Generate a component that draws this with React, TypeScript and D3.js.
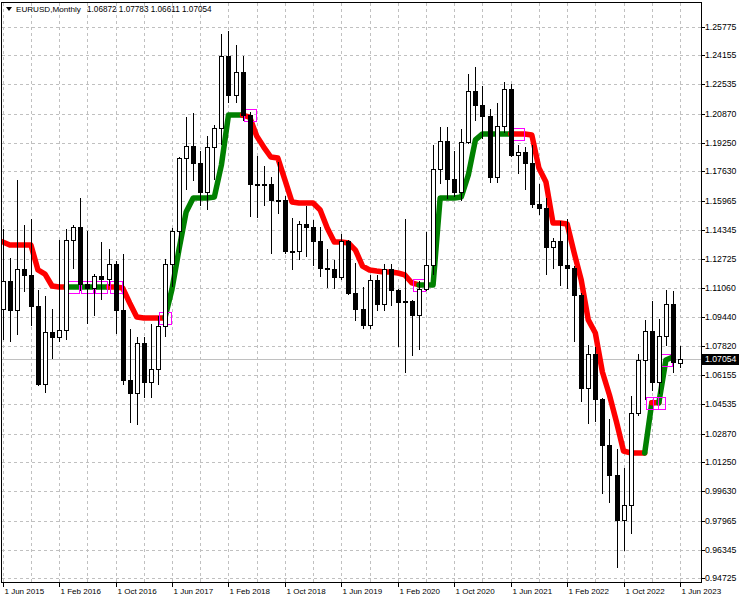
import React from "react";
import * as d3 from "d3";

const W = 741;
const H = 600;

// Monthly EURUSD candles, bar 0 = Jun 2015 ... bar 96 = Jun 2023
const opens = [
  1.0986, 1.1146, 1.0984, 1.1211, 1.1177, 1.1005, 1.0565, 1.0861, 1.0831, 1.0872,
  1.1379, 1.1452, 1.1131, 1.1104, 1.1174, 1.1157, 1.124, 1.0981, 1.059, 1.0517,
  1.0798, 1.0575, 1.0652, 1.0895, 1.1243, 1.1425, 1.1838, 1.1907, 1.1813, 1.1646,
  1.1902, 1.2005, 1.2414, 1.2194, 1.2324, 1.2078, 1.1693, 1.1684, 1.169, 1.16,
  1.1604, 1.1313, 1.1315, 1.1467, 1.1448, 1.1372, 1.1217, 1.1216, 1.117, 1.137,
  1.1077, 1.0987, 1.0899, 1.1152, 1.1016, 1.1213, 1.1093, 1.1027, 1.1031, 1.0954,
  1.1103, 1.1234, 1.1778, 1.1935, 1.1721, 1.1646, 1.1926, 1.2214, 1.2137, 1.2073,
  1.1729, 1.2019, 1.2228, 1.1858, 1.187, 1.1809, 1.1579, 1.1558, 1.1338, 1.137,
  1.1235, 1.1219, 1.1067, 1.0545, 1.0733, 1.0483, 1.0221, 1.0055, 0.9801, 0.9883,
  1.0405, 1.0703, 1.0863, 1.0576, 1.0839, 1.1017, 1.06872,
];
const highs = [
  1.1436, 1.1278, 1.1714, 1.146, 1.1495, 1.1096, 1.106, 1.0986, 1.1376, 1.1438,
  1.1464, 1.1616, 1.1428, 1.1186, 1.1366, 1.1327, 1.1258, 1.13, 1.0874, 1.0829,
  1.0829, 1.0906, 1.095, 1.1268, 1.1445, 1.1846, 1.207, 1.2092, 1.188, 1.1961,
  1.2023, 1.2537, 1.2556, 1.2476, 1.2414, 1.2097, 1.1852, 1.1791, 1.1733, 1.1815,
  1.1622, 1.15, 1.1486, 1.157, 1.1488, 1.1448, 1.1324, 1.1265, 1.1412, 1.1376,
  1.125, 1.111, 1.118, 1.1177, 1.124, 1.1239, 1.11, 1.1495, 1.104, 1.1146,
  1.1422, 1.1909, 1.2011, 1.2011, 1.188, 1.2004, 1.231, 1.2349, 1.2243, 1.2114,
  1.215, 1.2266, 1.2254, 1.1909, 1.19, 1.1909, 1.1692, 1.1616, 1.1386, 1.1483,
  1.1495, 1.1233, 1.1076, 1.0787, 1.0773, 1.0486, 1.0368, 1.0198, 1.0094, 1.0497,
  1.0736, 1.0929, 1.1033, 1.093, 1.1095, 1.1092, 1.07783,
];
const lows = [
  1.0819, 1.0809, 1.0848, 1.1087, 1.0897, 1.0558, 1.0524, 1.0711, 1.081, 1.0822,
  1.1217, 1.1097, 1.0912, 1.0952, 1.1046, 1.1123, 1.0852, 1.0568, 1.0352, 1.034,
  1.0494, 1.0491, 1.0569, 1.0839, 1.1118, 1.1312, 1.1662, 1.1717, 1.1574, 1.1554,
  1.1718, 1.1916, 1.2153, 1.2154, 1.2055, 1.151, 1.1508, 1.1575, 1.1301, 1.1526,
  1.1302, 1.1216, 1.1268, 1.1289, 1.1234, 1.1176, 1.111, 1.1107, 1.116, 1.1073,
  1.0927, 1.0879, 1.088, 1.0981, 1.0981, 1.101, 1.0778, 1.0636, 1.0727, 1.0766,
  1.1096, 1.1186, 1.1696, 1.1612, 1.1622, 1.1603, 1.1924, 1.2054, 1.1952, 1.1704,
  1.1704, 1.1986, 1.1847, 1.1752, 1.1664, 1.1563, 1.1524, 1.1186, 1.1222, 1.1121,
  1.1106, 1.0806, 1.047, 1.0349, 1.0359, 0.9952, 0.9901, 0.9536, 0.9632, 0.973,
  1.0393, 1.0483, 1.0533, 1.0516, 1.0788, 1.0635, 1.06611,
];
const closes = [
  1.1146, 1.0984, 1.1211, 1.1177, 1.1005, 1.0565, 1.0861, 1.0831, 1.0872, 1.1379,
  1.1452, 1.1131, 1.1104, 1.1174, 1.1157, 1.124, 1.0981, 1.059, 1.0517, 1.0798,
  1.0575, 1.0652, 1.0895, 1.1243, 1.1425, 1.1838, 1.1907, 1.1813, 1.1646, 1.1902,
  1.2005, 1.2414, 1.2194, 1.2324, 1.2078, 1.1693, 1.1684, 1.169, 1.16, 1.1604,
  1.1313, 1.1315, 1.1467, 1.1448, 1.1372, 1.1217, 1.1216, 1.117, 1.137, 1.1077,
  1.0987, 1.0899, 1.1152, 1.1016, 1.1213, 1.1093, 1.1027, 1.1031, 1.0954, 1.1103,
  1.1234, 1.1778, 1.1935, 1.1721, 1.1646, 1.1926, 1.2214, 1.2137, 1.2073, 1.1729,
  1.2019, 1.2228, 1.1858, 1.187, 1.1809, 1.1579, 1.1558, 1.1338, 1.137, 1.1235,
  1.1219, 1.1067, 1.0545, 1.0733, 1.0483, 1.0221, 1.0055, 0.9801, 0.9883, 1.0405,
  1.0703, 1.0863, 1.0576, 1.0839, 1.1017, 1.0689, 1.07054,
];

// Stepped trend line (bars 0..95) and its trend per bar (1 = up/green, -1 = down/red)
const lineValues = [
  1.1366, 1.1349, 1.1349, 1.1349, 1.1349, 1.1208, 1.1185, 1.1118, 1.1112, 1.1112,
  1.1112, 1.1112, 1.1112, 1.1112, 1.1112, 1.1112, 1.1112, 1.1107, 1.1022, 1.0943,
  1.0938, 1.0938, 1.0938, 1.0938, 1.1101, 1.1326, 1.1534, 1.1613, 1.1613, 1.1613,
  1.1619, 1.1799, 1.208, 1.208, 1.208, 1.2069, 1.1962, 1.19, 1.1844, 1.1838,
  1.1715, 1.1591, 1.1585, 1.1585, 1.1585, 1.1546, 1.1444, 1.1366, 1.1366, 1.136,
  1.132, 1.123, 1.1208, 1.1202, 1.1197, 1.1197, 1.1191, 1.118, 1.1135, 1.1124,
  1.1124, 1.1124, 1.1613, 1.1613, 1.1613, 1.1619, 1.1743, 1.194, 1.1974, 1.1974,
  1.1974, 1.1974, 1.1974, 1.1974, 1.1974, 1.1968, 1.1782, 1.1703, 1.1473, 1.1473,
  1.1467, 1.1304, 1.1152, 1.0927, 1.0853, 1.0634, 1.0504, 1.0352, 1.0189, 1.0178,
  1.0178, 1.0178, 1.046, 1.046, 1.0701, 1.0718,
];
const lineTrend = [
  -1, -1, -1, -1, -1, -1, -1, -1, -1, -1,
  1, 1, 1, 1, 1, 1,
  -1, -1, -1, -1, -1, -1, -1, -1,
  1, 1, 1, 1, 1, 1, 1, 1, 1, 1, 1,
  -1, -1, -1, -1, -1, -1, -1, -1, -1, -1, -1, -1, -1, -1, -1, -1, -1, -1, -1, -1, -1, -1, -1, -1, -1,
  1, 1, 1, 1, 1, 1, 1, 1, 1, 1, 1, 1, 1,
  -1, -1, -1, -1, -1, -1, -1, -1, -1, -1, -1, -1, -1, -1, -1, -1, -1, -1, -1,
  1, -1, 1, 1,
];

// Trend switch markers
const signalBars = [10, 12, 14, 16, 23, 35, 59, 73, 92, 93, 94];
const signalValues = [1.1112, 1.1112, 1.1112, 1.1112, 1.0938, 1.208, 1.1124, 1.1974, 1.046, 1.046, 1.0701];

const priceLabels = [
  1.25775, 1.24155, 1.22535, 1.2087, 1.1925, 1.1763, 1.15965, 1.14345, 1.12725, 1.1106,
  1.0944, 1.0782, 1.06155, 1.04535, 1.0287, 1.0125, 0.9963, 0.97965, 0.96345, 0.94725,
];
const dateLabels = [
  "1 Jun 2015", "1 Feb 2016", "1 Oct 2016", "1 Jun 2017", "1 Feb 2018", "1 Oct 2018",
  "1 Jun 2019", "1 Feb 2020", "1 Oct 2020", "1 Jun 2021", "1 Feb 2022", "1 Oct 2022",
  "1 Jun 2023",
];
const dateBars = [0, 8, 16, 24, 32, 40, 48, 56, 64, 72, 80, 88, 96];

const FONT = "'Liberation Sans', Arial, sans-serif";

export default function App() {
  const left = 1.5, right = 701.5, top = 2.5, bottom = 582.5;
  const x = d3.scaleLinear().domain([0, 96]).range([2.7, 680]);
  const y = d3.scaleLinear().domain([0.94725, 1.25775]).range([578.3, 26.7]);
  const px = (i: number) => Math.round(x(i)) + 0.5;
  const py = (v: number) => Math.round(y(v)) + 0.5;

  const n = opens.length;
  const last = n - 1;
  const lastClose = closes[last];

  const vGrid = d3.range(0, 97, 4);

  const line = d3
    .line<number>()
    .x((i) => x(i))
    .y((i) => y(lineValues[i]));
  const runs: { color: string; idx: number[] }[] = [];
  for (let i = 1; i < lineValues.length; i++) {
    const c = lineTrend[i] > 0 ? "#008000" : "#ff0000";
    const lastRun = runs[runs.length - 1];
    if (lastRun && lastRun.color === c) lastRun.idx.push(i);
    else runs.push({ color: c, idx: [i - 1, i] });
  }

  const title = `${opens[last].toFixed(5)} ${highs[last].toFixed(5)} ${lows[last].toFixed(5)} ${closes[last].toFixed(5)}`;
  const yLast = y(lastClose);

  return (
    <svg
      width={W}
      height={H}
      viewBox={`0 0 ${W} ${H}`}
      style={{ position: "absolute", left: 0, top: 0, background: "#fff" }}
    >
      <defs>
        <clipPath id="plot">
          <rect x={2} y={3} width={699} height={579} />
        </clipPath>
      </defs>
      <rect x={0} y={0} width={W} height={H} fill="#ffffff" />

      {/* grid */}
      <g stroke="#c0c0c0" strokeWidth={1} strokeDasharray="3,3" shapeRendering="crispEdges">
        {vGrid.map((b) => (
          <line key={"v" + b} x1={px(b)} x2={px(b)} y1={top} y2={bottom} />
        ))}
        {priceLabels.map((p) => (
          <line key={"h" + p} x1={left} x2={right + 3} y1={py(p)} y2={py(p)} />
        ))}
      </g>

      {/* current price line */}
      <line
        x1={left}
        x2={right}
        y1={Math.round(yLast) + 0.5}
        y2={Math.round(yLast) + 0.5}
        stroke="#c0c0c0"
        strokeWidth={1}
        shapeRendering="crispEdges"
      />

      <g clipPath="url(#plot)">
        {/* trend line */}
        {runs.map((r, k) => (
          <path
            key={"run" + k}
            d={line(r.idx) || ""}
            fill="none"
            stroke={r.color}
            strokeWidth={5.5}
            strokeLinejoin="round"
            strokeLinecap="round"
          />
        ))}

        {/* signal squares */}
        {signalBars.map((b, k) => (
          <rect
            key={"sq" + k}
            x={px(b) - 6}
            y={py(signalValues[k]) - 6}
            width={12}
            height={12}
            fill="none"
            stroke="#ff00ff"
            strokeWidth={1}
            shapeRendering="crispEdges"
          />
        ))}

        {/* candles */}
        <g shapeRendering="crispEdges">
          {opens.map((o, i) => {
            const c = closes[i];
            const xc = px(i);
            const t = Math.round(y(Math.max(o, c)));
            const b = Math.round(y(Math.min(o, c)));
            const bull = c >= o;
            return (
              <g key={"c" + i}>
                <line x1={xc} x2={xc} y1={Math.round(y(highs[i]))} y2={Math.round(y(lows[i])) + 1} stroke="#000" strokeWidth={1} />
                <rect
                  x={xc - 2}
                  y={t + 0.5}
                  width={4}
                  height={Math.max(1, b - t)}
                  fill={bull ? "#ffffff" : "#000000"}
                  stroke="#000"
                  strokeWidth={1}
                />
              </g>
            );
          })}
        </g>
      </g>

      {/* frame */}
      <rect
        x={left}
        y={top}
        width={right - left}
        height={bottom - top}
        fill="none"
        stroke="#000"
        strokeWidth={1}
        shapeRendering="crispEdges"
      />

      {/* price axis */}
      <g fontFamily={FONT} fontSize={8.7} fill="#000">
        {priceLabels.map((p) => (
          <g key={"pl" + p}>
            <line x1={right} x2={right + 3} y1={py(p)} y2={py(p)} stroke="#000" shapeRendering="crispEdges" />
            <text x={705} y={y(p) + 3}>
              {p.toFixed(5)}
            </text>
          </g>
        ))}
      </g>
      <rect x={702} y={Math.round(yLast) - 5} width={37} height={11} fill="#000" />
      <text x={705} y={yLast + 3} fontFamily={FONT} fontSize={8.7} fill="#fff">
        {lastClose.toFixed(5)}
      </text>

      {/* time axis */}
      <g fontFamily={FONT} fontSize={8} fill="#000">
        {dateLabels.map((d, k) => (
          <g key={"dl" + k}>
            <line
              x1={px(dateBars[k])}
              x2={px(dateBars[k])}
              y1={bottom}
              y2={bottom + 4}
              stroke="#000"
              shapeRendering="crispEdges"
            />
            <text x={px(dateBars[k]) + 1} y={594}>
              {d}
            </text>
          </g>
        ))}
      </g>

      {/* title */}
      <polygon points="6,7 12,7 9,11" fill="#000" />
      <text x={16} y={12} fontFamily={FONT} fontSize={8.1} fill="#000">
        EURUSD,Monthly
      </text>
      <text x={87} y={12} fontFamily={FONT} fontSize={8.2} fill="#000">
        {title}
      </text>
    </svg>
  );
}
